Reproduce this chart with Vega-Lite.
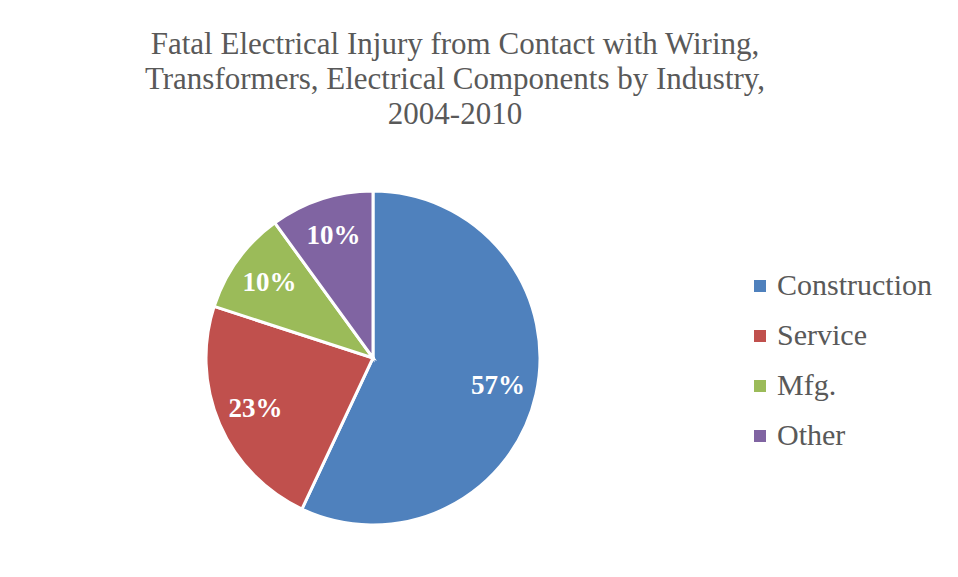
{
  "$schema": "https://vega.github.io/schema/vega-lite/v6.json",
  "autosize": "none",
  "width": 334,
  "height": 334,
  "padding": {"left": 206, "top": 191, "right": 418, "bottom": 52},
  "background": "white",
  "title": {
    "text": ["Fatal Electrical Injury from Contact with Wiring,", "Transformers, Electrical Components by Industry,", "2004-2010"],
    "anchor": "middle",
    "frame": "group",
    "dx": 82,
    "offset": 54,
    "font": "Liberation Serif",
    "fontSize": 31,
    "fontWeight": "normal",
    "lineHeight": 35,
    "color": "#595959"
  },
  "data": {
    "values": [
      {"industry": "Construction", "pct": 57},
      {"industry": "Service", "pct": 23},
      {"industry": "Mfg.", "pct": 10},
      {"industry": "Other", "pct": 10}
    ]
  },
  "encoding": {
    "theta": {"field": "pct", "type": "quantitative", "stack": true},
    "order": {"field": "order", "type": "quantitative"}
  },
  "transform": [
    {"window": [{"op": "row_number", "as": "order"}]}
  ],
  "layer": [
    {
      "mark": {"type": "arc", "stroke": "white", "strokeWidth": 3},
      "encoding": {
        "color": {
          "field": "industry",
          "type": "nominal",
          "sort": ["Construction", "Service", "Mfg.", "Other"],
          "scale": {"domain": ["Construction", "Service", "Mfg.", "Other"], "range": ["#4F81BD", "#C0504D", "#9BBB59", "#8064A2"]},
          "legend": {
            "title": null,
            "orient": "none",
            "legendX": 539,
            "legendY": 80,
            "symbolType": "square",
            "symbolSize": 144,
            "symbolStrokeWidth": 0,
            "labelFont": "Liberation Serif",
            "labelFontSize": 30,
            "labelColor": "#595959",
            "labelOffset": 2,
            "rowPadding": 20
          }
        }
      }
    },
    {
      "mark": {"type": "text", "radius": 128, "font": "Liberation Serif", "fontWeight": "bold", "fontSize": 27, "color": "white", "align": "center", "baseline": "middle"},
      "encoding": {
        "text": {"field": "label", "type": "nominal"}
      },
      "transform": [{"calculate": "datum.pct + '%'", "as": "label"}]
    }
  ]
}
